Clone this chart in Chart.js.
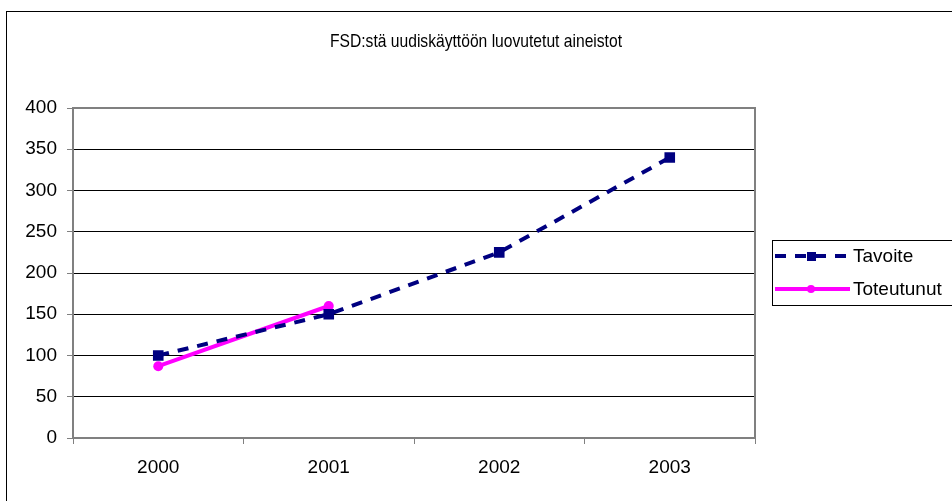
<!DOCTYPE html>
<html>
<head>
<meta charset="utf-8">
<script src="https://cdn.jsdelivr.net/npm/chart.js@4.4.1/dist/chart.umd.min.js"></script>
<style>
  html, body { margin: 0; padding: 0; background: #fff; }
  #wrap { width: 952px; height: 501px; position: relative; }
</style>
</head>
<body>
<div id="wrap"><canvas id="c" width="952" height="501"></canvas></div>
<script>
const years = ['2000', '2001', '2002', '2003'];
const tavoite = [100, 150, 225, 340];
const toteutunut = [87, 160, null, null];
const chartTitle = 'FSD:stä uudiskäyttöön luovutetut aineistot';

const FONT = '"Liberation Sans", Arial, sans-serif';

// frame, title, plot border and the boxed legend
const excelLook = {
  id: 'excelLook',
  beforeDraw(chart) {
    const ctx = chart.ctx;
    ctx.save();
    ctx.fillStyle = '#fff';
    ctx.fillRect(0, 0, chart.width, chart.height);
    ctx.strokeStyle = '#000';
    ctx.lineWidth = 1;
    ctx.strokeRect(6.5, 11.5, chart.width + 10, chart.height + 10);
    ctx.fillStyle = '#000';
    ctx.font = '19px ' + FONT;
    ctx.textAlign = 'center';
    ctx.textBaseline = 'middle';
    // the original font is narrow: squeeze horizontally to the same width
    const w = ctx.measureText(chartTitle).width;
    const sx = Math.min(1, 292 / w);
    ctx.translate(476, 42);
    ctx.scale(sx, 1);
    ctx.fillText(chartTitle, 0, 0);
    ctx.restore();
  },
  afterDraw(chart) {
    const ctx = chart.ctx;
    const a = chart.chartArea;
    ctx.save();
    ctx.strokeStyle = '#808080';
    ctx.lineWidth = 2;
    ctx.strokeRect(a.left, a.top, a.right - a.left, a.bottom - a.top);

    // legend
    ctx.strokeStyle = '#000';
    ctx.lineWidth = 1;
    ctx.strokeRect(772.5, 240.5, 200, 65);
    ctx.font = '19px ' + FONT;
    ctx.textAlign = 'left';
    ctx.textBaseline = 'middle';
    chart.data.datasets.forEach((ds, i) => {
      const y = 256 + i * 33;
      ctx.strokeStyle = ds.borderColor;
      ctx.lineWidth = ds.borderWidth;
      ctx.setLineDash(ds.borderDash || []);
      ctx.beginPath();
      ctx.moveTo(775, y);
      ctx.lineTo(850, y);
      ctx.stroke();
      ctx.setLineDash([]);
      ctx.fillStyle = ds.pointBackgroundColor;
      if (ds.pointStyle === 'rect') {
        ctx.fillRect(807, y - 4, 9, 9);
      } else {
        ctx.beginPath();
        ctx.arc(811, y, 4, 0, Math.PI * 2);
        ctx.fill();
      }
      ctx.fillStyle = '#000';
      ctx.fillText(ds.label, 853, y + 1);
    });
    ctx.restore();
  }
};

new Chart(document.getElementById('c'), {
  type: 'line',
  data: {
    labels: years,
    datasets: [
      {
        label: 'Tavoite',
        data: tavoite,
        borderColor: '#000080',
        backgroundColor: '#000080',
        pointBackgroundColor: '#000080',
        pointBorderColor: '#000080',
        borderWidth: 4,
        borderDash: [11, 9],
        pointStyle: 'rect',
        pointRadius: 7.5,
        pointBorderWidth: 0,
        tension: 0,
        spanGaps: false
      },
      {
        label: 'Toteutunut',
        data: toteutunut,
        borderColor: '#FF00FF',
        backgroundColor: '#FF00FF',
        pointBackgroundColor: '#FF00FF',
        pointBorderColor: '#FF00FF',
        borderWidth: 4,
        pointStyle: 'circle',
        pointRadius: 5,
        pointBorderWidth: 0,
        tension: 0,
        spanGaps: false
      }
    ]
  },
  options: {
    responsive: false,
    animation: false,
    devicePixelRatio: 1,
    layout: { padding: { left: 10, right: 197, top: 108, bottom: 0 } },
    plugins: {
      legend: { display: false },
      title: { display: false },
      tooltip: { enabled: false }
    },
    scales: {
      x: {
        offset: true,
        grid: { offset: true, drawOnChartArea: false, drawTicks: true, tickLength: 6, color: '#808080' },
        border: { display: false },
        ticks: { color: '#000', font: { family: FONT, size: 19 }, padding: 12 },
        afterFit(scale) { scale.height = 63; }
      },
      y: {
        min: 0,
        max: 400,
        ticks: { stepSize: 50, color: '#000', font: { family: FONT, size: 19 }, padding: 10 },
        grid: { color: '#000', lineWidth: 1, tickLength: 6, tickColor: '#808080' },
        border: { display: false },
        afterFit(scale) { scale.width = 63; }
      }
    }
  },
  plugins: [excelLook]
});
</script>
</body>
</html>
